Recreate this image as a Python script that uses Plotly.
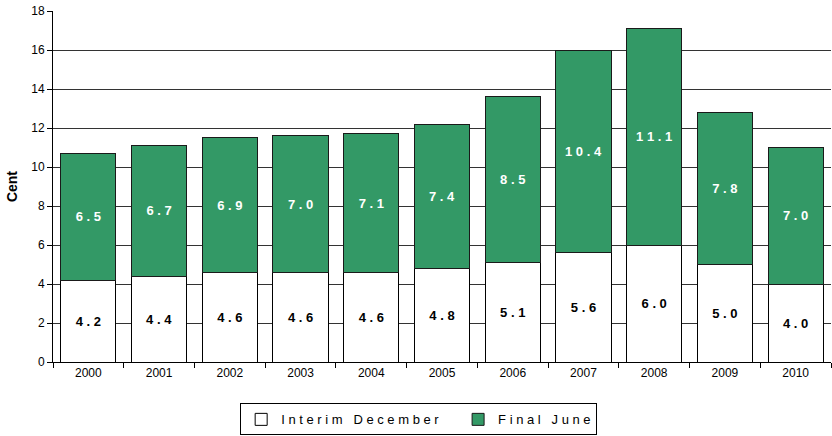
import plotly.graph_objects as go

years = ["2000", "2001", "2002", "2003", "2004", "2005", "2006", "2007", "2008", "2009", "2010"]
interim = [4.2, 4.4, 4.6, 4.6, 4.6, 4.8, 5.1, 5.6, 6.0, 5.0, 4.0]
final = [6.5, 6.7, 6.9, 7.0, 7.1, 7.4, 8.5, 10.4, 11.1, 7.8, 7.0]

def spaced(v):
    return " ".join(f"{v:.1f}")

NB = "\u00a0"
name_interim = "I n t e r i m   D e c e m b e r" + NB * 4
name_final = "F i n a l   J u n e"

fig = go.Figure()
fig.add_trace(go.Bar(
    x=years, y=interim, name=name_interim,
    marker=dict(color="white", line=dict(color="black", width=1)),
    text=[spaced(v) for v in interim], textposition="inside", insidetextanchor="middle",
    textfont=dict(family="Arial", size=13, color="black", weight="bold"),
    textangle=0,
))
fig.add_trace(go.Bar(
    x=years, y=final, name=name_final,
    marker=dict(color="#339966", line=dict(color="#1a1a1a", width=1)),
    text=[spaced(v) for v in final], textposition="inside", insidetextanchor="middle",
    textfont=dict(family="Arial", size=13, color="white", weight="bold"),
    textangle=0,
))

fig.update_layout(
    barmode="stack", bargap=0.22,
    width=832, height=436,
    margin=dict(l=53, r=1, t=11, b=74, autoexpand=False),
    plot_bgcolor="white", paper_bgcolor="white",
    font=dict(family="Liberation Sans Narrow, Arial Narrow, Arial", size=12, color="black"),
    showlegend=True,
    legend=dict(orientation="h", x=0.47, xanchor="center", y=-0.118, yanchor="top",
                bordercolor="black", borderwidth=1, traceorder="normal",
                font=dict(family="Arial", size=13),
                itemwidth=30, tracegroupgap=0),
)
fig.update_xaxes(
    type="category", showline=True, linecolor="black", linewidth=1, automargin=False,
    ticks="outside", ticklen=5, tickcolor="black", tickson="boundaries",
    tickfont=dict(size=12), showgrid=False,
)
fig.update_yaxes(
    range=[0, 18], dtick=2, showline=True, linecolor="black", linewidth=1, automargin=False,
    ticks="outside", ticklen=5, tickcolor="black",
    showgrid=True, gridcolor="#333333", gridwidth=1,
    tickfont=dict(size=12),
    title=dict(text="<b>Cent</b>", font=dict(family="Arial", size=14), standoff=10),
)

fig.write_html("out.html", config={"displayModeBar": False},
               post_script="document.body.style.margin='0';")
